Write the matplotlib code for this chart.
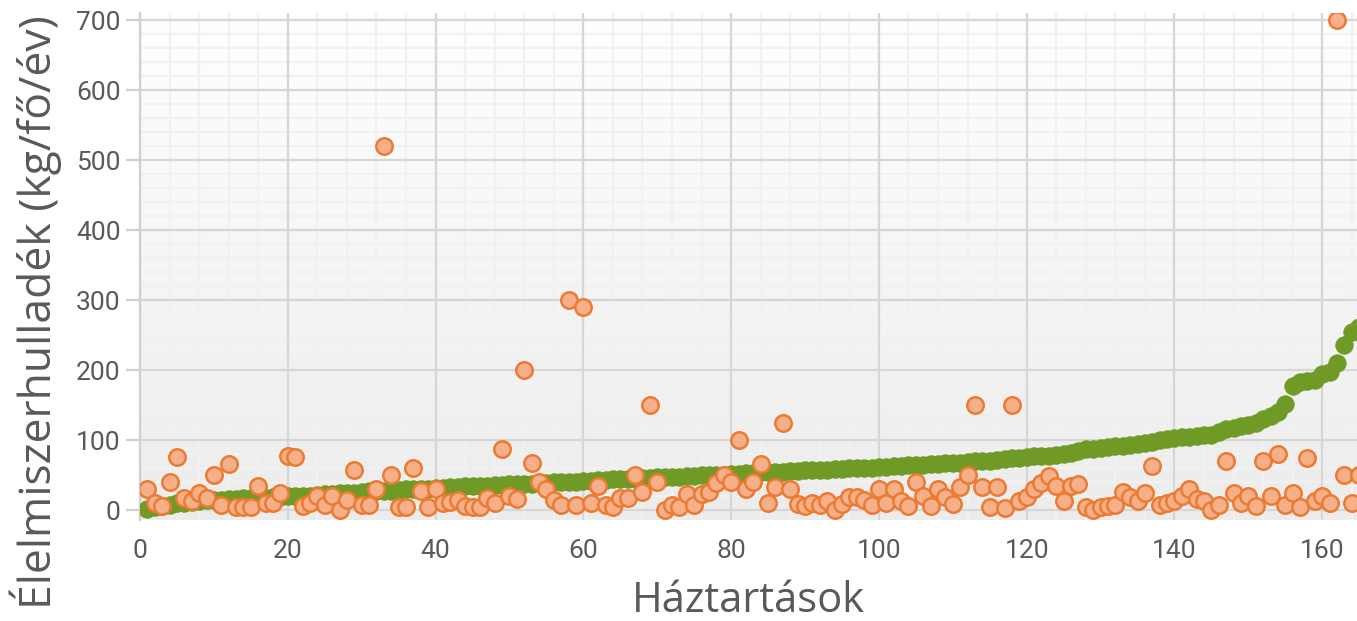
import numpy as np
import matplotlib.pyplot as plt
from matplotlib.colors import LinearSegmentedColormap

# households sorted by the green series (1..165)
households = list(range(1, 166))

green_vals = [
    2, 4, 6, 8, 10, 11, 12, 13, 14, 15,
    15, 16, 16, 17, 17, 18, 18, 19, 19, 20,
    20, 21, 21, 22, 23, 23, 24, 25, 25, 26,
    27, 27, 28, 28, 29, 30, 30, 31, 31, 32,
    32, 33, 33, 34, 34, 35, 35, 36, 36, 37,
    37, 38, 38, 39, 39, 40, 40, 41, 41, 42,
    42, 43, 43, 44, 44, 45, 45, 46, 46, 47,
    47, 48, 48, 49, 49, 50, 50, 51, 51, 52,
    52, 53, 53, 54, 54, 55, 55, 56, 56, 57,
    57, 58, 58, 59, 59, 60, 60, 61, 61, 62,
    62, 63, 63, 64, 64, 65, 66, 66, 67, 68,
    68, 69, 70, 70, 71, 72, 73, 74, 75, 76,
    77, 77, 78, 79, 80, 82, 85, 87, 88, 89,
    90, 91, 92, 93, 94, 96, 98, 100, 102, 103,
    104, 105, 106, 107, 108, 112, 116, 118, 120, 122,
    124, 130, 134, 140, 152, 178, 183, 185, 186, 195,
    198, 210, 236, 255, 262,
]

orange_vals = [
    30, 10, 6, 40, 76, 17, 13, 25, 17, 50,
    7, 66, 4, 4, 4, 35, 10, 11, 24, 77,
    76, 6, 10, 21, 7, 20, 1, 14, 57, 8,
    7, 30, 520, 50, 4, 4, 60, 27, 4, 30,
    11, 12, 14, 6, 4, 4, 17, 10, 87, 20,
    16, 200, 67, 40, 30, 14, 7, 300, 7, 290,
    10, 34, 7, 4, 18, 18, 50, 26, 150, 41,
    1, 7, 4, 23, 7, 23, 26, 39, 51, 40,
    100, 30, 40, 66, 11, 33, 125, 30, 9, 6,
    10, 7, 13, 1, 9, 19, 19, 14, 7, 30,
    10, 30, 13, 6, 40, 21, 6, 31, 19, 9,
    33, 50, 150, 33, 4, 33, 3, 150, 13, 19,
    30, 39, 49, 34, 13, 34, 37, 4, 1, 4,
    6, 7, 26, 19, 13, 24, 63, 7, 11, 13,
    20, 30, 16, 13, 0, 7, 70, 24, 11, 21,
    6, 70, 20, 80, 7, 24, 4, 75, 13, 20,
    10, 700, 50, 11, 50,
]

x_ticks = [0, 20, 40, 60, 80, 100, 120, 140, 160]
y_ticks = [0, 100, 200, 300, 400, 500, 600, 700]

XMAX, YMIN, YMAX = 164.7, -14, 710

fig = plt.figure(figsize=(13.57, 6.21), dpi=100)
ax = fig.add_axes([0.1032, 0.1626, 0.8968, 0.8164])

# plot-area gradient: light gray at the bottom, white at the top
grad = np.linspace(0, 1, 256).reshape(-1, 1)
bg = LinearSegmentedColormap.from_list('bg', ['#ececec', '#ffffff'])
ax.imshow(grad, cmap=bg, aspect='auto', origin='lower',
          extent=[0, XMAX, YMIN, YMAX], zorder=0)

# gridlines: minor first, major on top
for v in np.arange(0, XMAX, 4):
    ax.axvline(v, color='#f1f1f1', lw=1.6, zorder=0.5)
for v in np.arange(0, YMAX, 20):
    ax.axhline(v, color='#f1f1f1', lw=1.6, zorder=0.5)
for v in x_ticks:
    ax.axvline(v, color='#d6d6d6', lw=1.6, zorder=0.6)
for v in y_ticks:
    ax.axhline(v, color='#d6d6d6', lw=1.6, zorder=0.6)

ax.scatter(households, green_vals, s=160, color='#6f9a26', edgecolors='#6f9a26',
           linewidths=0.5, zorder=3)
ax.scatter(households, orange_vals, s=140, color='#f5b08a', edgecolors='#ec7a30',
           linewidths=1.8, zorder=4)

ax.set_xlim(0, XMAX)
ax.set_ylim(YMIN, YMAX)
ax.set_xticks(x_ticks)
ax.set_yticks(y_ticks)

for side in ['top', 'right', 'bottom']:
    ax.spines[side].set_visible(False)
ax.spines['left'].set_color('#d0d0d0')
ax.spines['left'].set_linewidth(1.6)
ax.tick_params(axis='y', length=10, width=1.6, color='#d0d0d0', pad=4)
ax.tick_params(axis='x', length=0, pad=14)

for lab in ax.get_xticklabels() + ax.get_yticklabels():
    lab.set_fontfamily('Roboto')
    lab.set_fontsize(19)
    lab.set_color('#595959')

ax.set_xlabel('Háztartások', fontsize=30, color='#595959', family='Open Sans', labelpad=12)
ax.set_ylabel('Élelmiszerhulladék (kg/fő/év)', fontsize=32, color='#595959',
              family='Open Sans')
ax.yaxis.set_label_coords(-0.064, 0.41)

fig.savefig('out.png', dpi=100)
